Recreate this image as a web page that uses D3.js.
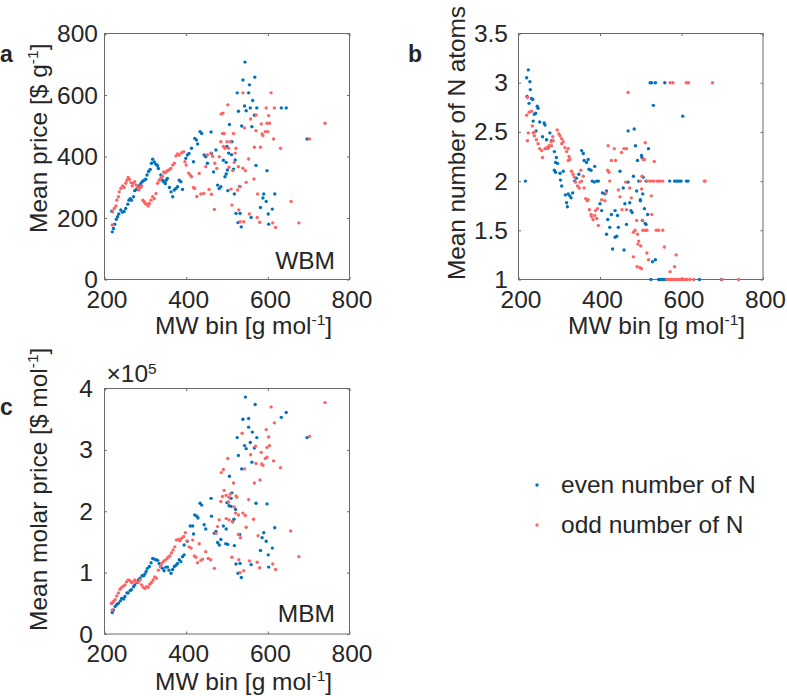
<!DOCTYPE html>
<html><head><meta charset="utf-8">
<script src="https://cdn.jsdelivr.net/npm/d3@7"></script>
<style>
body{margin:0;background:#fff}
svg{display:block}
text{font-family:"Liberation Sans",Arial,Helvetica,sans-serif;fill:#262626}
</style>
</head><body>
<svg id="chart" width="787" height="696"></svg>
<script>
// ---------- tick labels ----------
const xTicks = [200, 400, 600, 800];
const priceTicks = [0, 200, 400, 600, 800];
const nTicks = [1, 1.5, 2, 2.5, 3, 3.5];
const molarTicks = [0, 1, 2, 3, 4]; // x 10^5

const seriesNames = ["even number of N", "odd number of N"];

// ---------- panel a: mean price [$ g-1] vs MW bin ----------
const priceEven = [[219,155],[218,222],[222,166],[225,180],[229,196],[232,204],[235,213],[240,226],[244,219],[248,221],[252,231],[257,245],[260,258],[263,263],[266,258],[271,269],[274,289],[278,293],[281,295],[284,304],[289,312],[293,319],[297,323],[301,326],[304,340],[308,351],[312,358],[315,378],[318,391],[322,382],[326,375],[330,370],[332,361],[338,340],[342,323],[345,318],[349,312],[351,323],[354,329],[359,299],[363,285],[367,269],[371,291],[375,296],[379,302],[383,323],[387,318],[391,293],[399,394],[403,405],[407,410],[413,427],[418,383],[421,459],[425,454],[428,441],[434,481],[438,475],[444,405],[448,399],[452,378],[461,480],[462,410],[467,350],[473,421],[477,307],[481,296],[485,302],[491,388],[495,334],[501,356],
[544,707],[539,649],[568,658],[555,633],[525,607],[553,607],[563,582],[543,564],[557,558],[573,558],[633,558],[645,558],[528,547],[547,549],[567,534],[506,504],[536,499],[561,497],[696,457],[512,448],[500,433],[504,411],[511,406],[520,389],[498,381],[516,359],[571,371],[598,354],[498,343],[531,303],[502,289],[518,278],[590,278],[617,278],[588,265],[596,254],[582,234],[611,229],[522,215],[532,215],[601,213],[559,202],[527,185],[535,171],[602,180]];
const priceOdd = [[219,177],[220,220],[224,231],[228,239],[230,258],[234,269],[236,285],[240,296],[244,304],[248,299],[252,313],[255,323],[258,332],[261,326],[265,315],[268,304],[271,313],[274,318],[278,307],[281,299],[284,291],[288,299],[291,304],[294,258],[297,253],[300,247],[304,245],[307,239],[310,247],[314,258],[318,269],[322,263],[326,280],[330,313],[334,323],[338,329],[342,336],[345,350],[348,347],[351,350],[354,354],[358,356],[362,361],[367,372],[371,378],[375,402],[379,408],[383,405],[389,412],[394,416],[397,383],[400,372],[406,346],[410,340],[413,334],[418,299],[421,296],[426,270],[432,345],[436,278],[443,280],[448,367],[452,405],[456,293],[460,411],[462,277],[465,400],[469,228],[470,378],[475,361],[481,399],[485,448],[489,475],[493,475],[486,538],[490,541],[491,433],[495,427],
[539,607],[608,607],[502,568],[596,558],[616,558],[571,535],[602,533],[558,522],[740,508],[584,506],[598,508],[604,508],[543,493],[516,475],[571,484],[594,481],[600,481],[586,473],[588,468],[614,457],[702,457],[500,448],[508,448],[522,427],[567,430],[582,430],[631,427],[504,427],[520,411],[553,392],[518,381],[505,365],[528,367],[539,362],[545,354],[514,354],[566,327],[547,316],[532,302],[510,294],[526,291],[575,278],[657,254],[512,242],[529,226],[555,213],[574,202],[612,184],[676,184],[532,188],[541,188],[580,186],[619,169]];

// ---------- panel b: mean number of N atoms vs MW bin ----------
const nEven = [[217,2.0],[224,3.13],[220,3.05],[228,3.01],[229,2.93],[221,2.86],[232,2.84],[235,2.83],[226,2.79],[239,2.68],[242,2.69],[246,2.76],[248,2.74],[236,2.61],[252,2.60],[263,2.59],[265,2.57],[243,2.51],[259,2.45],[277,2.49],[269,2.42],[281,2.41],[273,2.34],[288,2.30],[293,2.24],[291,2.19],[296,2.18],[288,2.11],[291,2.09],[302,2.08],[310,2.10],[303,2.01],[306,1.95],[315,1.86],[322,1.87],[326,1.85],[329,1.83],[318,1.78],[320,1.74],[333,1.88],[338,2.00],[342,2.03],[348,2.07],[355,2.31],[359,2.28],[361,2.21],[367,2.19],[371,2.22],[373,2.12],[378,2.11],[387,2.15],[381,2.00],[386,1.99],[392,2.00],[396,2.0],[400,1.77],[404,1.70],[406,1.88],[412,1.87],[416,1.90],[419,1.61],[424,1.53],[428,1.66],[416,1.46],[437,1.70],[443,1.65],[445,1.53],[441,1.44],[437,1.43],[431,1.31],[449,2.10],[457,1.93],[459,1.30],[461,1.77],[465,1.56],[469,2.51],[469,1.99],[473,1.78],[476,1.70],[479,1.68],[482,2.05],[484,2.53],[487,2.36],[490,1.90],[492,2.21],[495,2.0],[499,1.80],[502,2.26],[504,1.60],[506,2.04],
[523,3.0],[527,3.0],[536,3.0],[559,3.0],[531,2.77],[603,2.66],[519,2.33],[503,2.24],[513,2.0],[571,2.0],[583,2.0],[587,2.0],[591,2.0],[595,2.0],[599,2.0],[612,2.0],[616,2.0],[505,1.87],[499,1.81],[509,1.72],[517,1.66],[511,1.57],[513,1.56],[529,1.18],[536,1.20],[525,1.0],[544,1.0],[548,1.0],[552,1.0],[556,1.0],[560,1.0],[603,1.0],[644,1.0],[698,1.0]];
const nOdd = [[222,2.85],[220,2.67],[226,2.70],[232,2.71],[224,2.49],[222,2.41],[234,2.56],[236,2.49],[240,2.50],[239,2.46],[244,2.42],[248,2.38],[252,2.33],[257,2.31],[259,2.24],[265,2.33],[269,2.34],[271,2.33],[275,2.36],[280,2.40],[285,2.41],[281,2.36],[284,2.45],[295,2.52],[299,2.48],[302,2.46],[306,2.43],[310,2.40],[306,2.38],[314,2.34],[318,2.30],[322,2.33],[324,2.25],[326,2.22],[322,2.21],[330,2.10],[334,2.07],[337,2.04],[340,1.99],[345,1.95],[349,1.93],[351,1.99],[355,2.00],[353,2.11],[359,2.05],[361,1.93],[365,1.82],[369,1.80],[371,1.81],[374,1.71],[378,1.66],[379,1.64],[383,1.61],[387,1.65],[389,1.70],[392,1.62],[396,1.55],[394,1.72],[404,1.81],[412,1.80],[415,1.88],[419,2.11],[422,2.09],[424,2.00],[420,2.36],[428,2.21],[435,2.33],[438,2.21],[445,1.91],[449,1.84],[453,2.29],[454,1.71],[459,2.33],[463,1.99],[465,2.33],[469,2.90],[465,1.71],[473,1.93],[477,1.83],[482,1.48],[486,1.50],[490,1.60],[492,1.46],[482,1.23],[495,1.39],[498,1.12],[502,1.92],[506,2.22],[493,1.36],[491,1.13],
[572,3.0],[579,3.0],[612,3.0],[617,3.0],[676,3.0],[511,2.39],[509,2.22],[533,2.20],[503,2.05],[499,2.0],[515,2.0],[522,2.0],[527,2.0],[532,2.0],[540,2.0],[544,2.0],[548,2.0],[554,2.0],[656,2.0],[658,2.0],[526,1.85],[527,1.66],[505,1.60],[505,1.5],[511,1.5],[515,1.5],[538,1.5],[544,1.5],[554,1.5],[500,1.34],[558,1.33],[515,1.27],[587,1.25],[519,1.20],[583,1.13],[502,1.11],[572,1.08],[564,1.0],[568,1.0],[574,1.0],[577,1.0],[581,1.0],[585,1.0],[589,1.0],[593,1.0],[597,1.0],[601,1.0],[605,1.0],[609,1.0],[613,1.0],[620,1.0],[630,1.0],[699,1.0],[740,1.0]];

// ---------- panel c: mean molar price [x10^5 $ mol-1] vs MW bin ----------
const molarEven = [[219,0.35],[218,0.50],[222,0.39],[226,0.45],[230,0.48],[234,0.50],[239,0.54],[242,0.58],[247,0.57],[250,0.61],[255,0.67],[258,0.67],[263,0.71],[266,0.72],[271,0.77],[274,0.80],[279,0.84],[283,0.88],[287,0.91],[292,0.95],[296,0.95],[299,0.98],[302,1.02],[305,1.07],[310,1.10],[314,1.16],[318,1.23],[322,1.22],[326,1.21],[330,1.20],[334,1.15],[338,1.10],[342,1.07],[346,1.03],[350,1.09],[354,1.09],[358,1.04],[363,0.99],[367,1.05],[371,1.10],[375,1.12],[379,1.15],[383,1.21],[387,1.18],[391,1.26],[395,1.29],[395,1.45],[403,1.51],[410,1.76],[416,1.76],[418,1.63],[421,1.94],[426,1.92],[429,1.89],[434,2.13],[438,2.10],[444,1.78],[448,1.71],[461,2.21],[462,1.92],[469,1.64],[473,1.67],[477,1.49],[481,1.45],[485,1.54],[491,1.76],[497,1.47],
[545,3.86],[569,3.74],[645,3.61],[633,3.53],[539,3.50],[553,3.51],[553,3.37],[562,3.29],[573,3.20],[525,3.20],[696,3.20],[557,3.12],[543,3.07],[547,3.02],[567,3.03],[528,2.91],[561,2.80],[536,2.69],[506,2.57],[512,2.30],[510,2.21],[500,2.14],[505,2.09],[510,2.08],[521,2.03],[571,2.13],[598,2.12],[517,1.87],[514,1.83],[498,1.71],[617,1.73],[531,1.62],[590,1.65],[586,1.57],[596,1.51],[502,1.46],[518,1.44],[582,1.36],[611,1.40],[601,1.29],[522,1.14],[532,1.15],[559,1.13],[602,1.09],[527,0.99],[535,0.92]];
const molarOdd = [[219,0.39],[217,0.50],[222,0.53],[226,0.56],[230,0.62],[234,0.67],[238,0.73],[242,0.76],[246,0.78],[250,0.80],[254,0.85],[258,0.88],[262,0.87],[266,0.84],[270,0.85],[274,0.88],[278,0.85],[283,0.84],[287,0.88],[291,0.80],[295,0.76],[299,0.74],[303,0.77],[307,0.76],[311,0.81],[315,0.84],[319,0.88],[323,0.93],[327,0.91],[332,1.04],[337,1.10],[340,1.15],[344,1.18],[348,1.20],[352,1.22],[356,1.25],[360,1.27],[364,1.32],[368,1.37],[372,1.42],[376,1.53],[381,1.54],[385,1.52],[389,1.56],[394,1.59],[398,1.65],[402,1.51],[407,1.42],[412,1.40],[416,1.53],[420,1.27],[424,1.25],[428,1.16],[432,1.47],[436,1.20],[440,1.22],[448,1.34],[454,1.23],[460,1.21],[469,1.07],[473,1.64],[477,1.75],[481,1.86],[485,2.16],[489,2.24],[493,2.34],[486,2.63],[491,2.68],
[740,3.77],[608,3.70],[616,3.44],[596,3.33],[537,3.27],[602,3.21],[702,3.22],[570,3.06],[604,3.07],[598,3.04],[584,2.96],[502,2.86],[598,2.88],[594,2.86],[558,2.92],[614,2.82],[571,2.78],[585,2.77],[588,2.75],[631,2.71],[543,2.69],[581,2.51],[567,2.46],[516,2.46],[508,2.28],[505,2.23],[522,2.25],[524,2.23],[498,2.26],[553,2.19],[504,2.15],[518,2.07],[521,1.97],[528,1.94],[539,1.97],[545,1.93],[498,1.88],[505,1.86],[513,1.83],[565,1.87],[547,1.74],[656,1.68],[528,1.62],[576,1.60],[533,1.57],[512,1.25],[676,1.26],[529,1.21],[555,1.19],[574,1.17],[612,1.14],[580,1.08],[619,1.05],[532,1.00],[541,1.03]];

// ---------- drawing ----------
const COLORS = {even: "#0072BD", odd: "#FF6464"};
const FS = 24.5, SUP = 15.5, R = 1.7;
const svg = d3.select("#chart");

function addLabel(sel, main, sup, tail) {
  sel.append("tspan").text(main);
  sel.append("tspan").attr("font-size", SUP).attr("dy", -9.5).text(sup);
  sel.append("tspan").attr("dy", 9.5).text(tail);
}

const panels = [
  {letter:"a", lx:0, ly:62, left:104.5, top:33.5, w:245, h:246, dom:[0,800], ticks:priceTicks, fmt:d3.format("d"),
   even:priceEven, odd:priceOdd, yTickRight:98, xTickBase:28.5, xLab:[155,334], yLab:[47,233],
   yText:["Mean price [$ g","-1","]"], inset:"WBM", insetPos:[335,269]},
  {letter:"b", lx:408, ly:62, left:518.5, top:33.5, w:244.5, h:246, dom:[1,3.5], ticks:nTicks, fmt:d=>String(d),
   even:nEven, odd:nOdd, yTickRight:508, xTickBase:28.5, xLab:[568,334], yLab:[465,280],
   yText:["Mean number of N atoms","",""], yLen:274},
  {letter:"c", lx:0, ly:415, left:104.5, top:388.5, w:245, h:245.5, dom:[0,4], ticks:molarTicks, fmt:d3.format("d"),
   even:molarEven, odd:molarOdd, yTickRight:93, xTickBase:28, xLab:[155,690], yLab:[47,631],
   yText:["Mean molar price [$ mol","-1","]"], inset:"MBM", insetPos:[335,622], exp:true}
];

panels.forEach(p => {
  const x = d3.scaleLinear().domain([200, 800]).range([p.left, p.left + p.w]);
  const y = d3.scaleLinear().domain(p.dom).range([p.top + p.h, p.top]);
  const g = svg.append("g");

  const styleAxis = a => {
    a.select(".domain").remove();
    a.selectAll(".tick line").attr("stroke", "#6a6a6a").attr("stroke-width", 1);
  };

  const bottom = g.append("g").attr("transform", `translate(0,${p.top + p.h})`)
    .call(d3.axisBottom(x).tickValues(xTicks).tickSizeInner(-2.5).tickSizeOuter(0).tickFormat(d3.format("d")));
  styleAxis(bottom);
  bottom.selectAll(".tick text").attr("y", p.xTickBase).attr("dy", 0).attr("x", 2)
    .attr("font-size", FS).attr("font-family", null).attr("fill", "#262626");

  const top = g.append("g").attr("transform", `translate(0,${p.top})`)
    .call(d3.axisTop(x).tickValues(xTicks).tickSizeInner(-2.5).tickSizeOuter(0).tickFormat(""));
  styleAxis(top);

  const left = g.append("g").attr("transform", `translate(${p.left},0)`)
    .call(d3.axisLeft(y).tickValues(p.ticks).tickSizeInner(-2.5).tickSizeOuter(0).tickFormat(p.fmt));
  styleAxis(left);
  left.selectAll(".tick text").attr("x", p.yTickRight - p.left).attr("dy", 0).attr("y", 8)
    .attr("font-size", FS).attr("font-family", null).attr("fill", "#262626");

  const right = g.append("g").attr("transform", `translate(${p.left + p.w},0)`)
    .call(d3.axisRight(y).tickValues(p.ticks).tickSizeInner(-2.5).tickSizeOuter(0).tickFormat(""));
  styleAxis(right);

  g.append("rect").attr("x", p.left).attr("y", p.top).attr("width", p.w).attr("height", p.h)
    .attr("fill", "none").attr("stroke", "#6a6a6a").attr("stroke-width", 1);

  g.append("g").selectAll("circle").data(p.even).join("circle")
    .attr("cx", d => x(d[0])).attr("cy", d => y(d[1])).attr("r", R).attr("fill", COLORS.even);
  g.append("g").selectAll("circle").data(p.odd).join("circle")
    .attr("cx", d => x(d[0])).attr("cy", d => y(d[1])).attr("r", R).attr("fill", COLORS.odd);

  // axis labels
  const xl = g.append("text").attr("x", p.xLab[0]).attr("y", p.xLab[1]).attr("font-size", FS);
  addLabel(xl, "MW bin [g mol", "-1", "]");
  const yl = g.append("text").attr("transform", `translate(${p.yLab[0]},${p.yLab[1]}) rotate(-90)`).attr("font-size", FS);
  if (p.yText[1]) addLabel(yl, p.yText[0], p.yText[1], p.yText[2]); else yl.text(p.yText[0]);
  if (p.yLen) yl.attr("textLength", p.yLen).attr("lengthAdjust", "spacing");

  g.append("text").attr("x", p.lx).attr("y", p.ly).attr("font-size", 23).attr("font-weight", "bold").attr("fill", "#000").text(p.letter);

  if (p.inset) g.append("text").attr("x", p.insetPos[0]).attr("y", p.insetPos[1]).attr("text-anchor", "end")
    .attr("font-size", FS).attr("fill", "#000").text(p.inset);

  if (p.exp) {
    const e = g.append("text").attr("x", p.left + 2).attr("y", p.top - 6.5).attr("font-size", FS);
    e.append("tspan").text("\u00d710");
    e.append("tspan").attr("font-size", SUP).attr("dy", -8).text("5");
  }
});

// legend
const legend = svg.append("g");
const lg = [{name: seriesNames[0], c: COLORS.even, y: 485}, {name: seriesNames[1], c: COLORS.odd, y: 525}];
legend.selectAll("circle").data(lg).join("circle").attr("cx", 537).attr("cy", d => d.y).attr("r", R).attr("fill", d => d.c);
legend.selectAll("text").data(lg).join("text").attr("x", 561).attr("y", d => d.y + 8).attr("font-size", FS).attr("fill", "#000").text(d => d.name);
</script>
</body></html>
